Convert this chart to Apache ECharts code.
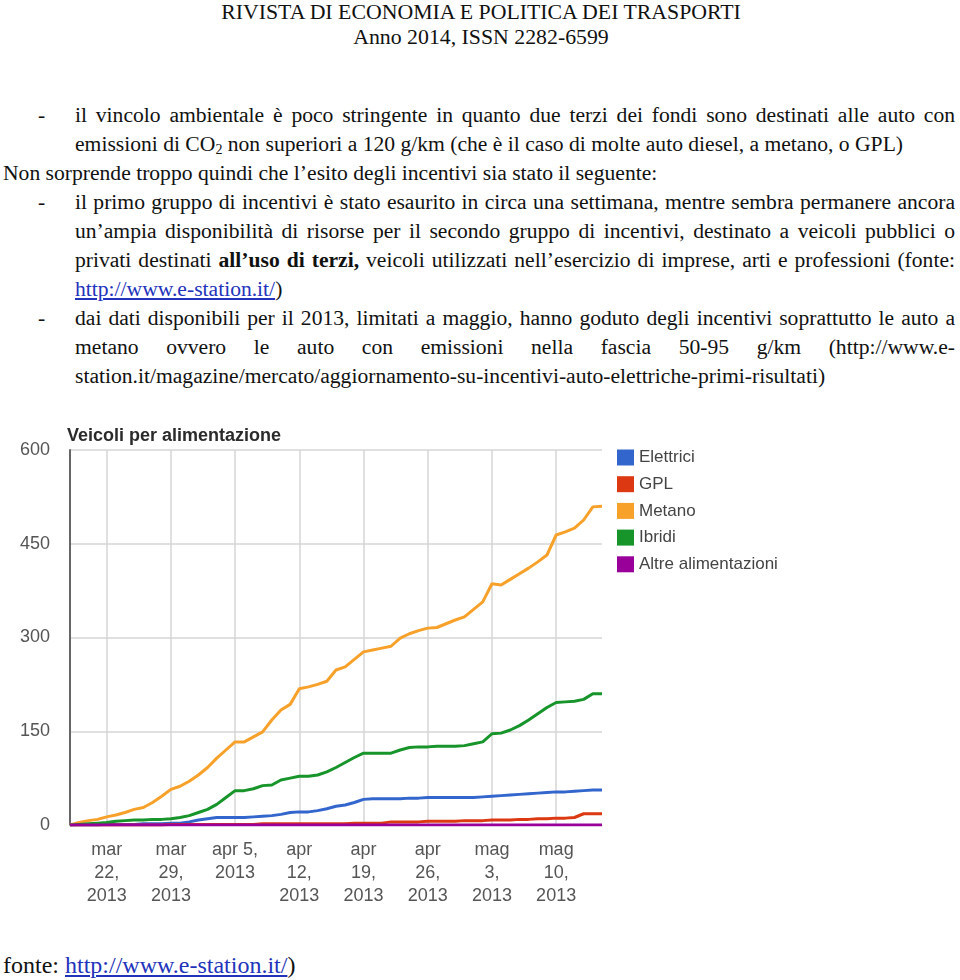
<!DOCTYPE html>
<html>
<head>
<meta charset="utf-8">
<script src="https://cdn.jsdelivr.net/npm/echarts@6/dist/echarts.min.js"></script>
<style>
  html, body { margin: 0; padding: 0; background: #fff; }
  body { width: 960px; height: 980px; position: relative; overflow: hidden; font-family: "Liberation Serif", "Times New Roman", serif; color: #111; }
  .ln { position: absolute; font-size: 21.6px; line-height: 29px; white-space: nowrap; }
  .j { width: 880px; left: 75px; text-align: justify; text-align-last: justify; white-space: normal; }
  .dash { position: absolute; left: 38px; font-size: 21.6px; line-height: 29px; }
  a { color: #2233bb; text-decoration: underline; }
  .hdr { position: absolute; left: 0; width: 962px; text-align: center; font-size: 21.8px; line-height: 25px; }
  #chart { position: absolute; left: 0; top: 410px; width: 960px; height: 520px; }
  sub { font-size: 14px; vertical-align: -3px; line-height: 0; }
</style>
</head>
<body>
<div class="hdr" style="top:0px">RIVISTA DI ECONOMIA E POLITICA DEI TRASPORTI</div>
<div class="hdr" style="top:25px">Anno 2014, ISSN 2282-6599</div>

<div class="dash" style="top:101px">-</div>
<div class="ln j" style="top:101px">il vincolo ambientale è poco stringente in quanto due terzi dei fondi sono destinati alle auto con</div>
<div class="ln" style="top:130px;left:75px">emissioni di CO<sub>2</sub> non superiori a 120 g/km (che è il caso di molte auto diesel, a metano, o GPL)</div>
<div class="ln" style="top:159px;left:3px">Non sorprende troppo quindi che l’esito degli incentivi sia stato il seguente:</div>
<div class="dash" style="top:188px">-</div>
<div class="ln j" style="top:188px">il primo gruppo di incentivi è stato esaurito in circa una settimana, mentre sembra permanere ancora</div>
<div class="ln j" style="top:217px">un’ampia disponibilità di risorse per il secondo gruppo di incentivi, destinato a veicoli pubblici o</div>
<div class="ln j" style="top:246px">privati destinati <b>all’uso di terzi,</b> veicoli utilizzati nell’esercizio di imprese, arti e professioni (fonte:</div>
<div class="ln" style="top:275px;left:75px"><a>http://www.e-station.it/</a>)</div>
<div class="dash" style="top:304px">-</div>
<div class="ln j" style="top:304px">dai dati disponibili per il 2013, limitati a maggio, hanno goduto degli incentivi soprattutto le auto a</div>
<div class="ln j" style="top:333px">metano ovvero le auto con emissioni nella fascia 50-95 g/km (http://www.e-</div>
<div class="ln" style="top:362px;left:75px">station.it/magazine/mercato/aggiornamento-su-incentivi-auto-elettriche-primi-risultati)</div>

<div id="chart"></div>

<div class="ln" style="top:951px;left:3px;font-size:24px">fonte: <a>http://www.e-station.it/</a>)</div>

<script>
const categories = [
  '2013-03-18','2013-03-19','2013-03-20','2013-03-21','2013-03-22','2013-03-23','2013-03-24',
  '2013-03-25','2013-03-26','2013-03-27','2013-03-28','2013-03-29','2013-03-30','2013-03-31',
  '2013-04-01','2013-04-02','2013-04-03','2013-04-04','2013-04-05','2013-04-06','2013-04-07',
  '2013-04-08','2013-04-09','2013-04-10','2013-04-11','2013-04-12','2013-04-13','2013-04-14',
  '2013-04-15','2013-04-16','2013-04-17','2013-04-18','2013-04-19','2013-04-20','2013-04-21',
  '2013-04-22','2013-04-23','2013-04-24','2013-04-25','2013-04-26','2013-04-27','2013-04-28',
  '2013-04-29','2013-04-30','2013-05-01','2013-05-02','2013-05-03','2013-05-04','2013-05-05',
  '2013-05-06','2013-05-07','2013-05-08','2013-05-09','2013-05-10','2013-05-11','2013-05-12',
  '2013-05-13','2013-05-14','2013-05-15'
];
const tickDates = ['2013-03-22','2013-03-29','2013-04-05','2013-04-12','2013-04-19','2013-04-26','2013-05-03','2013-05-10'];
const tickLabels = ['mar\n22,\n2013','mar\n29,\n2013','apr 5,\n2013','apr\n12,\n2013','apr\n19,\n2013','apr\n26,\n2013','mag\n3,\n2013','mag\n10,\n2013'];
const yTicks = [0, 150, 300, 450, 600];

const elettrici = [0,0,0,0,1,1,1,1,2,2,2,3,3,5,8,10,12,12,12,12,13,14,15,17,20,21,21,23,26,30,32,36,41,42,42,42,42,43,43,44,44,44,44,44,44,45,46,47,48,49,50,51,52,53,53,54,55,56,56];
const gpl = [0,0,0,0,0,0,0,0,0,0,0,1,1,1,1,1,1,1,1,1,1,2,2,2,2,2,2,2,2,2,2,3,3,3,3,5,5,5,5,6,6,6,6,7,7,7,8,8,8,9,9,10,10,11,11,12,18,18,18];
const metano = [0,4,7,9,13,16,20,25,28,36,46,57,62,70,80,92,107,120,133,133,141,149,168,184,193,218,221,225,230,248,253,265,277,280,283,286,299,306,311,315,316,322,328,333,345,357,386,384,393,402,411,421,432,464,469,475,488,509,510];
const ibridi = [0,1,2,3,4,6,7,8,8,9,9,10,12,15,20,25,33,44,55,55,58,63,64,72,75,78,78,80,85,92,100,108,115,115,115,115,120,124,125,125,126,126,126,127,130,133,146,147,152,159,168,178,188,196,197,198,201,210,210];
const altre = [0,0,0,0,0,0,0,0,0,0,0,0,0,0,0,0,0,0,0,0,0,0,0,0,0,0,0,0,0,0,0,0,0,0,0,0,0,0,0,0,0,0,0,0,0,0,0,0,0,0,0,0,0,0,0,0,0,0,0];

const seriesNames = ['Elettrici','GPL','Metano','Ibridi','Altre alimentazioni'];
const seriesColors = ['#3366cc','#dc3912','#f7a12a','#17942a','#990099'];
const seriesData = [elettrici, gpl, metano, ibridi, altre];

const isTick = (idx, val) => tickDates.indexOf(val) >= 0;

const chart = echarts.init(document.getElementById('chart'), null, { renderer: 'canvas' });
chart.setOption({
  animation: false,
  title: {
    text: 'Veicoli per alimentazione',
    left: 67, top: 17, padding: 0,
    textStyle: { fontFamily: 'Liberation Sans, Arial, sans-serif', fontSize: 18, fontWeight: 'bold', color: '#2b2b2b' }
  },
  legend: {
    orient: 'vertical', left: 617, top: 39, padding: 0,
    itemWidth: 17, itemHeight: 16, itemGap: 9.7, icon: 'rect',
    data: seriesNames,
    textStyle: { fontFamily: 'Liberation Sans, Arial, sans-serif', fontSize: 17, color: '#444' }
  },
  grid: { left: 70, top: 40, right: 358, bottom: 105, containLabel: false },
  xAxis: {
    type: 'category', data: categories, boundaryGap: false,
    axisLine: { show: true, lineStyle: { color: '#ccc', width: 1 } },
    axisTick: { show: false },
    axisLabel: {
      interval: isTick, margin: 14,
      formatter: (v) => { const k = tickDates.indexOf(v); return k >= 0 ? tickLabels[k] : ''; },
      fontFamily: 'Liberation Sans, Arial, sans-serif', fontSize: 18, lineHeight: 23, color: '#555'
    },
    splitLine: { show: true, interval: isTick, lineStyle: { color: '#d6d6d6', width: 1.5 } }
  },
  yAxis: {
    type: 'value', min: 0, max: 600, interval: 150,
    axisLine: { show: true, lineStyle: { color: '#666', width: 2 } },
    axisTick: { show: false },
    axisLabel: {
      margin: 20,
      formatter: (v) => (yTicks.indexOf(v) >= 0 ? String(v) : ''),
      fontFamily: 'Liberation Sans, Arial, sans-serif', fontSize: 18, color: '#555'
    },
    splitLine: { show: true, lineStyle: { color: '#d6d6d6', width: 1.5 } }
  },
  series: seriesNames.map((n, i) => ({
    name: n, type: 'line', data: seriesData[i], showSymbol: false, symbol: 'none',
    color: seriesColors[i],
    lineStyle: { width: 3, color: seriesColors[i] }
  }))
});
</script>
</body>
</html>
